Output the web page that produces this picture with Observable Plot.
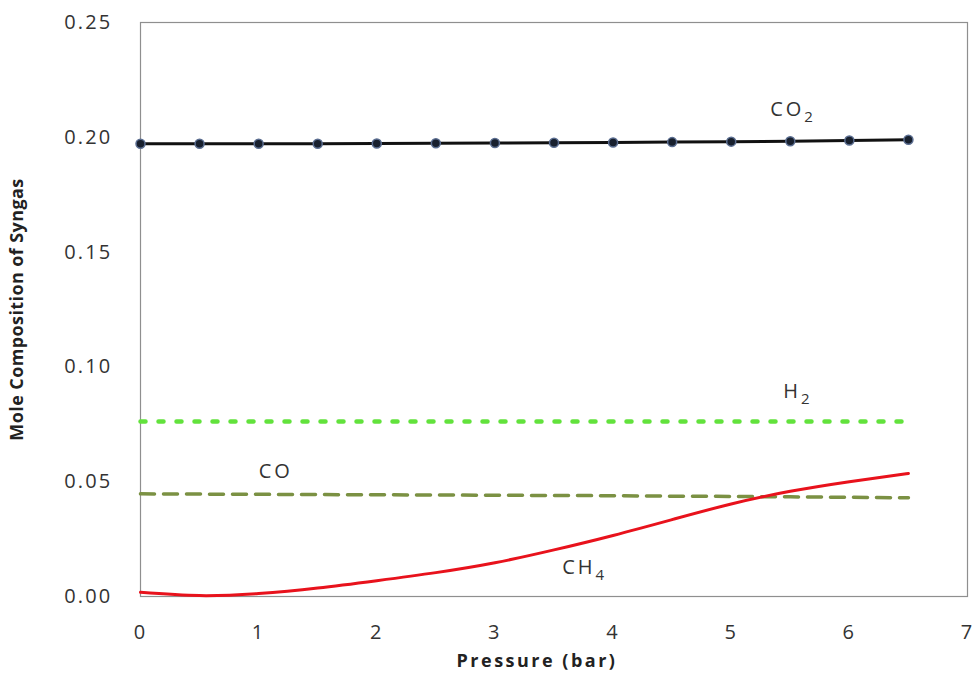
<!DOCTYPE html>
<html>
<head>
<meta charset="utf-8">
<script src="https://cdn.jsdelivr.net/npm/d3@7"></script>
<script src="https://cdn.jsdelivr.net/npm/@observablehq/plot@0.6"></script>
<style>
  html, body { margin: 0; padding: 0; background: #fff; }
  #chart svg { display: block; }
  g[aria-label="x-axis tick label"] text,
  g[aria-label="y-axis tick label"] text { letter-spacing: 2.2px; }
  .series-label text { letter-spacing: 3px; }
  .xlab text { letter-spacing: 2.5px; }
  .ylab text { letter-spacing: 0.4px; }
</style>
</head>
<body>
<div id="chart"></div>
<script>
const pressure = [0, 0.5, 1, 1.5, 2, 2.5, 3, 3.5, 4, 4.5, 5, 5.5, 6, 6.5];
const co2 = [0.1972, 0.1972, 0.1972, 0.1972, 0.1973, 0.1974, 0.1975, 0.1976, 0.1977, 0.1979, 0.1981, 0.1983, 0.1986, 0.1989];
const h2  = [0.0762, 0.0762, 0.0762, 0.0762, 0.0762, 0.0762, 0.0762, 0.0762, 0.0762, 0.0762, 0.0762, 0.0762, 0.0762, 0.0762];
const co  = [0.0447, 0.0446, 0.0445, 0.0444, 0.0443, 0.0442, 0.0441, 0.0440, 0.0439, 0.0437, 0.0436, 0.0434, 0.0432, 0.0430];
const ch4 = [0.0018, 0.0004, 0.0013, 0.0037, 0.0069, 0.0104, 0.0147, 0.0203, 0.0266, 0.0335, 0.0403, 0.0458, 0.0500, 0.0536];

const xTicks = [0, 1, 2, 3, 4, 5, 6, 7];
const yTicks = [0, 0.05, 0.10, 0.15, 0.20, 0.25];

const labelNames = ["CO\u2082", "H\u2082", "CO", "CH\u2084"];
const labelX = [5.33, 5.44, 1.0, 3.57];
const labelY = [0.2119, 0.0891, 0.0542, 0.0124];

const xTitle = "Pressure (bar)";
const yTitle = "Mole Composition of Syngas";

const mk = (vals) => pressure.map((p, i) => ({p, v: vals[i]}));
const dCO2 = mk(co2), dH2 = mk(h2), dCO = mk(co), dCH4 = mk(ch4);
const labels = labelNames.map((name, i) => ({name, x: labelX[i], y: labelY[i]}));

const font = "'Open Sans', 'DejaVu Sans', sans-serif";

const chart = Plot.plot({
  width: 980,
  height: 684,
  marginLeft: 140,
  marginRight: 13,
  marginTop: 22,
  marginBottom: 88,
  style: {fontFamily: font, background: "#fff", color: "#333"},
  x: {domain: [0, 7]},
  y: {domain: [0, 0.25]},
  marks: [
    Plot.axisX({ticks: xTicks, tickSize: 0, tickPadding: 28, fontSize: 20, label: null, tickFormat: d3.format("d"), fill: "#333"}),
    Plot.axisY({ticks: yTicks, tickSize: 0, tickPadding: 28, fontSize: 20, label: null, tickFormat: d3.format(".2f"), fill: "#333"}),
    Plot.frame({stroke: "#8f8f8f", strokeWidth: 1.2}),
    Plot.line(dH2, {x: "p", y: "v", stroke: "#62e23c", strokeWidth: 4.5, strokeDasharray: "5 13"}),
    Plot.line(dCO, {x: "p", y: "v", stroke: "#7b9143", strokeWidth: 3.5, strokeDasharray: "14 9"}),
    Plot.line(dCH4, {x: "p", y: "v", stroke: "#e8121c", strokeWidth: 3, curve: "natural"}),
    Plot.line(dCO2, {x: "p", y: "v", stroke: "#111", strokeWidth: 3}),
    Plot.dot(dCO2, {x: "p", y: "v", r: 4.5, fill: "#18202e", stroke: "#5a6d90", strokeWidth: 1.5}),
    Plot.text(labels, {x: "x", y: "y", text: "name", textAnchor: "start", fontSize: 20, fill: "#333", className: "series-label"}),
    Plot.text([xTitle], {frameAnchor: "bottom", dy: 70, dx: -17, fontSize: 18, fontWeight: "bold", fill: "#222", className: "xlab"}),
    Plot.text([yTitle], {frameAnchor: "left", textAnchor: "middle", dx: -123, dy: 0, rotate: -90, fontSize: 18, fontWeight: "bold", fill: "#222", className: "ylab"})
  ]
});
document.getElementById("chart").appendChild(chart);

// render subscript digits as lowered tspans
d3.select(chart).selectAll(".series-label text").each(function() {
  const t = this.textContent;
  const m = t.match(/^(.*?)([\u2080-\u2089])$/);
  if (!m) return;
  const sel = d3.select(this);
  sel.text(null);
  sel.append("tspan").text(m[1]);
  sel.append("tspan").attr("dy", "0.35em").attr("font-size", 15)
    .text(String(m[2].charCodeAt(0) - 0x2080));
});
</script>
</body>
</html>
